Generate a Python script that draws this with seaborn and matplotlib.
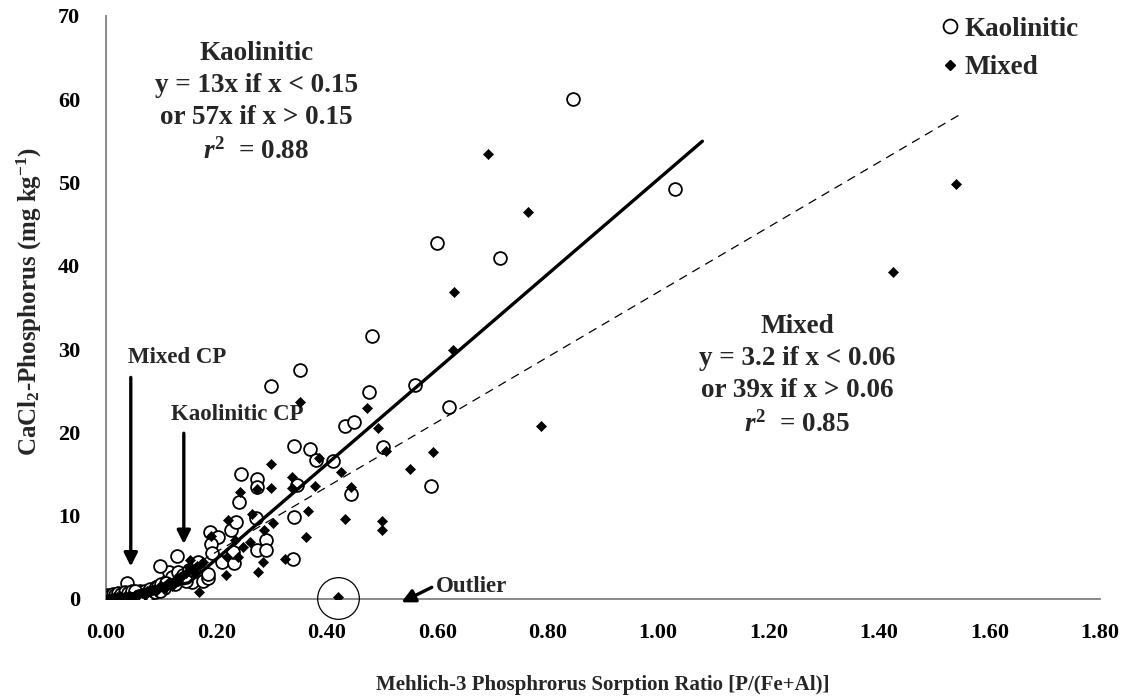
import matplotlib
matplotlib.use("Agg")
import matplotlib.pyplot as plt
from matplotlib.lines import Line2D
import numpy as np
import pandas as pd
import seaborn as sns

# Kaolinitic soils: Mehlich-3 P/(Fe+Al) ratio vs CaCl2-P (mg/kg)
kao_x = [0.003, 0.006, 0.009, 0.012, 0.015, 0.018, 0.021, 0.024, 0.027, 0.030,
         0.033, 0.036, 0.039, 0.042, 0.046, 0.050, 0.054, 0.058, 0.062, 0.066,
         0.070, 0.075, 0.080, 0.085, 0.090, 0.095, 0.100, 0.105, 0.110, 0.115,
         0.120, 0.130, 0.135, 0.140, 0.150, 0.155, 0.160, 0.166, 0.175, 0.185,
         0.185, 0.097, 0.129, 0.189, 0.203, 0.191, 0.192, 0.211, 0.232, 0.230,
         0.227, 0.236, 0.241, 0.245, 0.274, 0.274, 0.272, 0.290, 0.273, 0.290,
         0.298, 0.352, 0.340, 0.369, 0.381, 0.412, 0.346, 0.340, 0.339, 0.443,
         0.432, 0.449, 0.476, 0.482, 0.502, 0.560, 0.588, 0.599, 0.621, 0.713,
         0.845, 1.030,
         0.004, 0.008, 0.013, 0.017, 0.022, 0.028, 0.034, 0.040, 0.047, 0.053,
         0.060, 0.068, 0.078, 0.088, 0.098, 0.108, 0.125, 0.145]
kao_y = [0.0, 0.1, 0.0, 0.2, 0.1, 0.3, 0.1, 0.2, 0.4, 0.2,
         0.3, 0.5, 1.9, 0.4, 0.6, 0.5, 0.7, 0.6, 0.9, 0.8,
         1.0, 0.7, 1.2, 1.0, 1.4, 1.5, 1.8, 1.3, 2.2, 3.3,
         2.6, 3.2, 2.4, 2.9, 3.5, 2.0, 3.9, 4.5, 2.2, 2.5,
         3.0, 4.0, 5.2, 8.1, 7.4, 6.6, 5.5, 4.5, 4.3, 5.7,
         8.3, 9.3, 11.6, 15.0, 14.4, 13.5, 9.7, 7.1, 5.9, 5.9,
         25.6, 27.5, 18.4, 18.0, 16.7, 16.6, 13.7, 9.9, 4.8, 12.6,
         20.8, 21.2, 24.8, 31.6, 18.3, 25.7, 13.6, 42.8, 23.0, 41.0,
         60.0, 49.2,
         0.5, 0.4, 0.6, 0.5, 0.7, 0.6, 0.8, 0.7, 0.9, 1.0,
         0.4, 0.5, 0.6, 0.8, 0.9, 1.9, 1.8, 2.2]

# Mixed-mineralogy soils
mix_x = [0.002, 0.005, 0.008, 0.011, 0.014, 0.017, 0.020, 0.023, 0.026, 0.029,
         0.032, 0.035, 0.038, 0.041, 0.044, 0.048, 0.052, 0.056, 0.060, 0.065,
         0.070, 0.075, 0.080, 0.085, 0.090, 0.095, 0.100, 0.105, 0.110, 0.115,
         0.120, 0.125, 0.130, 0.135, 0.140, 0.145, 0.151, 0.153, 0.158, 0.165,
         0.169, 0.175, 0.191, 0.218, 0.219, 0.221, 0.233, 0.240, 0.243, 0.248,
         0.261, 0.265, 0.274, 0.275, 0.284, 0.287, 0.299, 0.298, 0.302, 0.325,
         0.337, 0.337, 0.352, 0.363, 0.366, 0.378, 0.385, 0.420, 0.425, 0.432,
         0.443, 0.472, 0.492, 0.500, 0.500, 0.507, 0.550, 0.592, 0.628, 0.630,
         0.692, 0.765, 0.787, 1.425, 1.540]
mix_y = [0.0, 0.1, 0.0, 0.1, 0.2, 0.0, 0.2, 0.1, 0.3, 0.2,
         0.1, 0.3, 0.2, 0.4, 0.3, 0.2, 0.5, 0.4, 0.6, 0.7,
         0.5, 0.9, 0.8, 1.1, 1.0, 1.3, 1.6, 1.2, 1.8, 2.0,
         1.5, 2.3, 2.1, 2.6, 2.9, 3.1, 3.9, 4.7, 3.4, 4.0,
         0.8, 4.4, 7.6, 2.9, 5.1, 9.5, 7.1, 5.0, 12.9, 6.3,
         6.9, 10.2, 13.2, 3.2, 4.5, 8.3, 16.2, 13.3, 9.1, 4.8,
         14.6, 13.3, 23.6, 7.5, 10.6, 13.6, 16.9, 0.2, 15.2, 9.6,
         13.5, 22.9, 20.5, 9.4, 8.3, 17.8, 15.6, 17.7, 29.9, 36.8,
         53.4, 46.5, 20.8, 39.2, 49.8]

# Segmented regressions: (slope below break, break point, slope above break, end of line)
kao_fit = dict(low=13, brk=0.15, high=57, end=1.08)
mix_fit = dict(low=3.2, brk=0.06, high=39, end=1.55)

x_ticks = [0.0, 0.2, 0.4, 0.6, 0.8, 1.0, 1.2, 1.4, 1.6, 1.8]
y_ticks = [0, 10, 20, 30, 40, 50, 60, 70]


def segmented(fit):
    xs = np.array([0.0, fit["brk"], fit["end"]])
    ys = np.where(xs <= fit["brk"], fit["low"] * xs,
                  fit["low"] * fit["brk"] + fit["high"] * (xs - fit["brk"]))
    return xs, ys


sns.set_theme(style="white")
serif = ["Liberation Serif", "DejaVu Serif"]
plt.rcParams["font.family"] = serif
plt.rcParams["font.weight"] = "bold"
plt.rcParams["mathtext.fontset"] = "custom"
plt.rcParams["mathtext.rm"] = "Liberation Serif:bold"
plt.rcParams["mathtext.it"] = "Liberation Serif:italic:bold"
plt.rcParams["mathtext.bf"] = "Liberation Serif:bold"

FS_TEXT = 19.5
FS_TICK = 16
FS_SMALL = 16.5
fig = plt.figure(figsize=(11.27, 7.0), dpi=100)
ax = fig.add_axes([0.094, 0.1443, 0.882, 0.8329])

kao = pd.DataFrame({"x": kao_x, "y": kao_y})
mix = pd.DataFrame({"x": mix_x, "y": mix_y})

sns.scatterplot(data=kao, x="x", y="y", ax=ax, marker="o", s=85,
                facecolor="white", edgecolor="black", linewidth=1.3, zorder=3)
sns.scatterplot(data=mix, x="x", y="y", ax=ax, marker="D", s=26,
                color="black", edgecolor="black", linewidth=0.5, zorder=4)

kx, ky = segmented(kao_fit)
mx, my = segmented(mix_fit)
ax.plot(kx, ky, color="black", lw=2.4, zorder=5)
ax.plot(mx, my, color="black", lw=0.9, ls=(0, (7, 5)), zorder=5)

ax.set_xlim(0, 1.8)
ax.set_ylim(0, 70)
ax.set_xticks(x_ticks)
ax.set_xticklabels([f"{v:.2f}" for v in x_ticks], fontsize=FS_TICK, fontweight="bold")
ax.set_yticks(y_ticks)
ax.set_yticklabels([str(v) for v in y_ticks], fontsize=FS_TICK, fontweight="bold")

for side in ["top", "right"]:
    ax.spines[side].set_visible(False)
for side in ["left", "bottom"]:
    ax.spines[side].set_color("#808080")
    ax.spines[side].set_linewidth(1.3)
ax.tick_params(axis="both", direction="out", color="#808080", width=1.3,
               length=6, labelcolor="black")
ax.tick_params(axis="x", pad=11)
ax.tick_params(axis="y", pad=12.5)

ax.set_xlabel("Mehlich-3 Phosphrorus Sorption Ratio [P/(Fe+Al)]",
              fontsize=15, fontweight="bold", labelpad=23)
ax.set_ylabel(r"CaCl$_2$-Phosphorus (mg kg$^{-1}$)", fontsize=18,
              fontweight="bold", labelpad=8)
ax.yaxis.set_label_coords(-0.062, 0.51)

# Regression statements
ax.text(0.272, 59.6, "Kaolinitic\ny = 13x if x < 0.15\nor 57x if x > 0.15\n$r^{2}$  = 0.88",
        ha="center", va="center", fontsize=FS_TEXT, fontweight="bold", linespacing=1.38)
ax.text(1.252, 26.8, "Mixed\ny = 3.2 if x < 0.06\nor 39x if x > 0.06\n$r^{2}$  = 0.85",
        ha="center", va="center", fontsize=FS_TEXT, fontweight="bold", linespacing=1.38)

# Change-point markers
arrow = dict(arrowstyle="-|>", color="black", lw=2.4, mutation_scale=20,
             shrinkA=0, shrinkB=0)
ax.text(0.04, 29.0, "Mixed CP", ha="left", va="center", fontsize=FS_SMALL,
        fontweight="bold")
ax.annotate("", xy=(0.045, 3.9), xytext=(0.045, 26.6), arrowprops=arrow)
ax.text(0.237, 22.1, "Kaolinitic CP", ha="center", va="center", fontsize=FS_SMALL,
        fontweight="bold")
ax.annotate("", xy=(0.141, 6.6), xytext=(0.141, 19.9), arrowprops=arrow)

# Outlier
ax.plot([0.42], [0.1], marker="o", ms=30, mfc="none", mec="black", mew=0.9,
        clip_on=False, zorder=6)
ax.annotate("", xy=(0.535, -0.4), xytext=(0.59, 1.4), arrowprops=arrow,
            annotation_clip=False)
ax.text(0.597, 1.5, "Outlier", ha="left", va="center", fontsize=FS_SMALL,
        fontweight="bold")

handles = [
    Line2D([], [], marker="o", ls="none", mfc="white", mec="black", mew=1.3, ms=10),
    Line2D([], [], marker="D", ls="none", mfc="black", mec="black", ms=5.5),
]
fig.legend(handles, ["Kaolinitic", "Mixed"], loc="upper left",
           bbox_to_anchor=(918 / 1127, 1 + 2 / 700), frameon=False,
           handletextpad=0.0, handlelength=1.0, labelspacing=0.5,
           borderpad=0.2, prop={"family": serif, "weight": "bold", "size": FS_TEXT})

fig.savefig("out.png", dpi=100)
